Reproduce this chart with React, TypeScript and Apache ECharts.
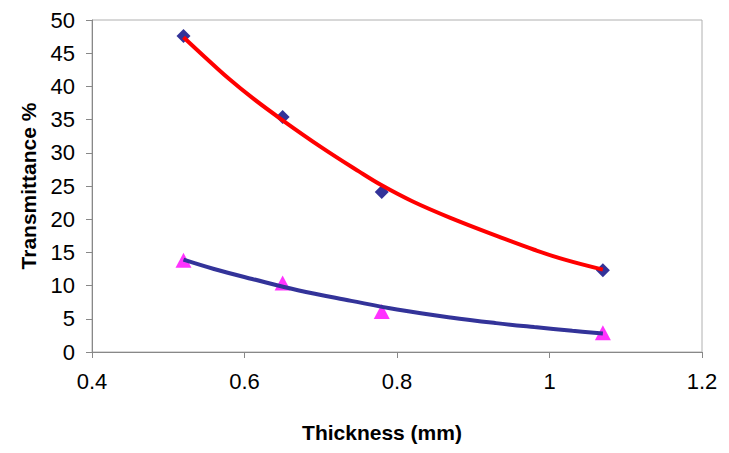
import React, { useEffect, useRef } from "react";
import * as echarts from "echarts";

const diamondX = [0.52, 0.65, 0.78, 1.07];
const diamondY = [47.6, 35.4, 24.1, 12.3];
const triangleX = [0.52, 0.65, 0.78, 1.07];
const triangleY = [13.8, 10.4, 6.1, 2.9];

// Trendlines
const redTrendX = [0.52, 0.55, 0.58, 0.61, 0.65, 0.7, 0.75, 0.78, 0.82, 0.87, 0.935, 0.98, 1.02, 1.07];
const redTrendY = [47.4, 44.2, 41.1, 38.3, 34.9, 30.9, 27.2, 25.1, 22.7, 20.2, 17.3, 15.4, 13.9, 12.4];
const blueTrendX = [0.52, 0.56, 0.61, 0.67, 0.74, 0.8, 0.87, 0.93, 0.98, 1.03, 1.07];
const blueTrendY = [13.9, 12.5, 11.0, 9.3, 7.7, 6.4, 5.2, 4.35, 3.75, 3.2, 2.8];

const xTicks = [0.4, 0.6, 0.8, 1, 1.2];
const yTicks = [0, 5, 10, 15, 20, 25, 30, 35, 40, 45, 50];

const xTitle = "Thickness (mm)";
const yTitle = "Transmittance %";

const zip = (xs: number[], ys: number[]) => xs.map((x, i) => [x, ys[i]]);

export default function App() {
  const ref = useRef<HTMLDivElement>(null);
  useEffect(() => {
    if (!ref.current) return;
    const chart = echarts.init(ref.current, undefined, { renderer: "svg" });
    const font = "Liberation Sans, Arial, sans-serif";
    chart.setOption({
      animation: false,
      backgroundColor: "#ffffff",
      grid: {
        left: 92,
        right: 27,
        top: 20,
        bottom: 101,
        show: true,
        borderColor: "#b0b0b0",
        borderWidth: 1,
      },
      xAxis: {
        type: "value",
        min: xTicks[0],
        max: xTicks[xTicks.length - 1],
        interval: 0.2,
        axisLine: { show: true, onZero: false, lineStyle: { color: "#888888", width: 1 } },
        axisTick: { show: true, length: 6, inside: false, lineStyle: { color: "#888888" } },
        splitLine: { show: false },
        axisLabel: {
          color: "#000000",
          fontFamily: font,
          fontSize: 22,
          margin: 18,
          formatter: (v: number) => String(Math.round(v * 10) / 10),
        },
      },
      yAxis: {
        type: "value",
        min: yTicks[0],
        max: yTicks[yTicks.length - 1],
        interval: 5,
        axisLine: { show: true, lineStyle: { color: "#888888", width: 1 } },
        axisTick: { show: true, length: 6, inside: false, lineStyle: { color: "#888888" } },
        splitLine: { show: false },
        axisLabel: {
          color: "#000000",
          fontFamily: font,
          fontSize: 22,
          margin: 17,
        },
      },
      graphic: [
        {
          type: "text",
          x: 382,
          y: 432,
          style: {
            text: xTitle,
            font: `bold 21px ${font}`,
            fill: "#000000",
            textAlign: "center",
            textVerticalAlign: "middle",
          },
        },
        {
          type: "text",
          x: 28,
          y: 186,
          rotation: Math.PI / 2,
          style: {
            text: yTitle,
            font: `bold 21px ${font}`,
            fill: "#000000",
            textAlign: "center",
            textVerticalAlign: "middle",
          },
        },
      ],
      series: [
        {
          type: "scatter",
          data: zip(diamondX, diamondY),
          symbol: "diamond",
          symbolSize: [14, 14],
          itemStyle: { color: "#000080" },
          z: 1,
        },
        {
          type: "scatter",
          data: zip(triangleX, triangleY),
          symbol: "triangle",
          symbolSize: [16, 15],
          itemStyle: { color: "#ff00ff" },
          z: 1,
        },
        {
          type: "line",
          data: zip(redTrendX, redTrendY),
          showSymbol: false,
          symbol: "none",
          smooth: 0.4,
          lineStyle: { color: "#ff0000", width: 4 },
          z: 3,
        },
        {
          type: "line",
          data: zip(blueTrendX, blueTrendY),
          showSymbol: false,
          symbol: "none",
          smooth: 0.4,
          lineStyle: { color: "#333399", width: 4 },
          z: 3,
        },
      ],
    });
    return () => chart.dispose();
  }, []);
  return <div ref={ref} style={{ width: 729, height: 453, position: "fixed", left: 0, top: 0 }} />;
}
